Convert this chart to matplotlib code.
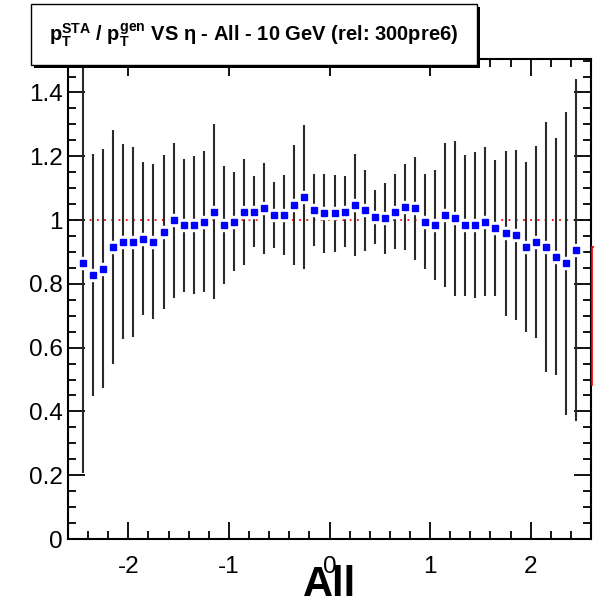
import numpy as np
import matplotlib
matplotlib.use('Agg')
import matplotlib.pyplot as plt
from matplotlib.patches import Rectangle
from matplotlib.lines import Line2D
from matplotlib.ticker import MultipleLocator

plt.rcParams['font.family'] = ['Liberation Sans', 'DejaVu Sans']
plt.rcParams['mathtext.fontset'] = 'custom'
plt.rcParams['mathtext.rm'] = 'Liberation Sans'
plt.rcParams['mathtext.bf'] = 'Liberation Sans:bold'
plt.rcParams['mathtext.it'] = 'Liberation Sans:italic'
plt.rcParams['axes.unicode_minus'] = False

# 50 eta bins of width 0.1 from -2.5 to 2.5
eta = np.round(np.arange(-2.45, 2.5, 0.1), 2)

ratio = [0.864, 0.827, 0.848, 0.916, 0.932, 0.932, 0.942, 0.932, 0.963, 1.000,
         0.984, 0.984, 0.995, 1.026, 0.984, 0.995, 1.026, 1.026, 1.037, 1.016,
         1.016, 1.047, 1.073, 1.031, 1.021, 1.021, 1.026, 1.047, 1.031, 1.010,
         1.005, 1.026, 1.042, 1.037, 0.995, 0.984, 1.016, 1.005, 0.984, 0.984,
         0.995, 0.974, 0.958, 0.953, 0.916, 0.932, 0.916, 0.885, 0.864, 0.906]

ratio_err = [0.656, 0.379, 0.374, 0.366, 0.306, 0.298, 0.240, 0.243, 0.241, 0.243,
             0.209, 0.217, 0.222, 0.274, 0.185, 0.156, 0.167, 0.112, 0.143, 0.104,
             0.125, 0.188, 0.225, 0.112, 0.123, 0.120, 0.112, 0.159, 0.127, 0.085,
             0.112, 0.117, 0.135, 0.162, 0.149, 0.172, 0.227, 0.242, 0.221, 0.229,
             0.234, 0.213, 0.260, 0.266, 0.267, 0.301, 0.392, 0.371, 0.476, 0.536]

W, H = 594, 604
fig = plt.figure(figsize=(W / 100, H / 100), dpi=100)
ax = fig.add_axes([68 / W, 1 - 539 / H, (591 - 68) / W, (539 - 59) / H])

ax.errorbar(eta, ratio, yerr=ratio_err, fmt='none', ecolor='#2a2a2a',
            elinewidth=1.5, capsize=0, zorder=2)
ax.plot(eta, ratio, 's', color='white', markersize=8, zorder=3)
ax.plot(eta, ratio, 's', color='#0000ff', markersize=4.6, zorder=4)

ax.axhline(1.0, color='red', linestyle=(0, (1, 3)), linewidth=1.3, zorder=1)

ax.set_xlim(-2.6, 2.6)
ax.set_ylim(0, 1.505)
ax.xaxis.set_major_locator(MultipleLocator(1))
ax.xaxis.set_minor_locator(MultipleLocator(0.2))
ax.yaxis.set_major_locator(MultipleLocator(0.2))
ax.yaxis.set_minor_locator(MultipleLocator(0.05))
ax.yaxis.set_major_formatter(plt.FuncFormatter(lambda v, p: f'{v:g}'))

ax.tick_params(which='both', direction='in', top=True, right=True, width=1.3,
               labelsize=17.5, colors='black')
ax.tick_params(which='major', length=12)
ax.tick_params(which='minor', length=6)
ax.tick_params(axis='x', which='major', pad=12)
ax.tick_params(axis='y', which='major', pad=4)
for s in ax.spines.values():
    s.set_linewidth(1.5)

fig.text(330 / W, 1 - 585 / H, 'All', fontsize=30, fontweight='bold',
         ha='center', va='center')

# title box with shadow
fig.add_artist(Rectangle((34 / W, 1 - 68 / H), 446 / W, 61 / H,
                         transform=fig.transFigure, facecolor='black',
                         edgecolor='none', zorder=5))
fig.add_artist(Rectangle((31 / W, 1 - 65 / H), 446 / W, 61 / H,
                         transform=fig.transFigure, facecolor='white',
                         edgecolor='black', linewidth=1, zorder=6))
fig.text(254 / W, 1 - 35 / H,
         r'$\mathbf{p}_\mathbf{T}^\mathbf{STA}$ / $\mathbf{p}_\mathbf{T}^\mathbf{gen}$'
         ' VS η - All - 10 GeV (rel: 300pre6)',
         fontsize=14.5, fontweight='bold', ha='center', va='center', zorder=7)

# edge of a box cut off at the right border
fig.add_artist(Line2D([592 / W, 592 / W], [1 - 247 / H, 1 - 385 / H],
                      transform=fig.transFigure, color='red', linewidth=1.2))
fig.add_artist(Line2D([592 / W, 594 / W], [1 - 247 / H, 1 - 247 / H],
                      transform=fig.transFigure, color='red', linewidth=1.2))

fig.savefig('out.png', dpi=100)
